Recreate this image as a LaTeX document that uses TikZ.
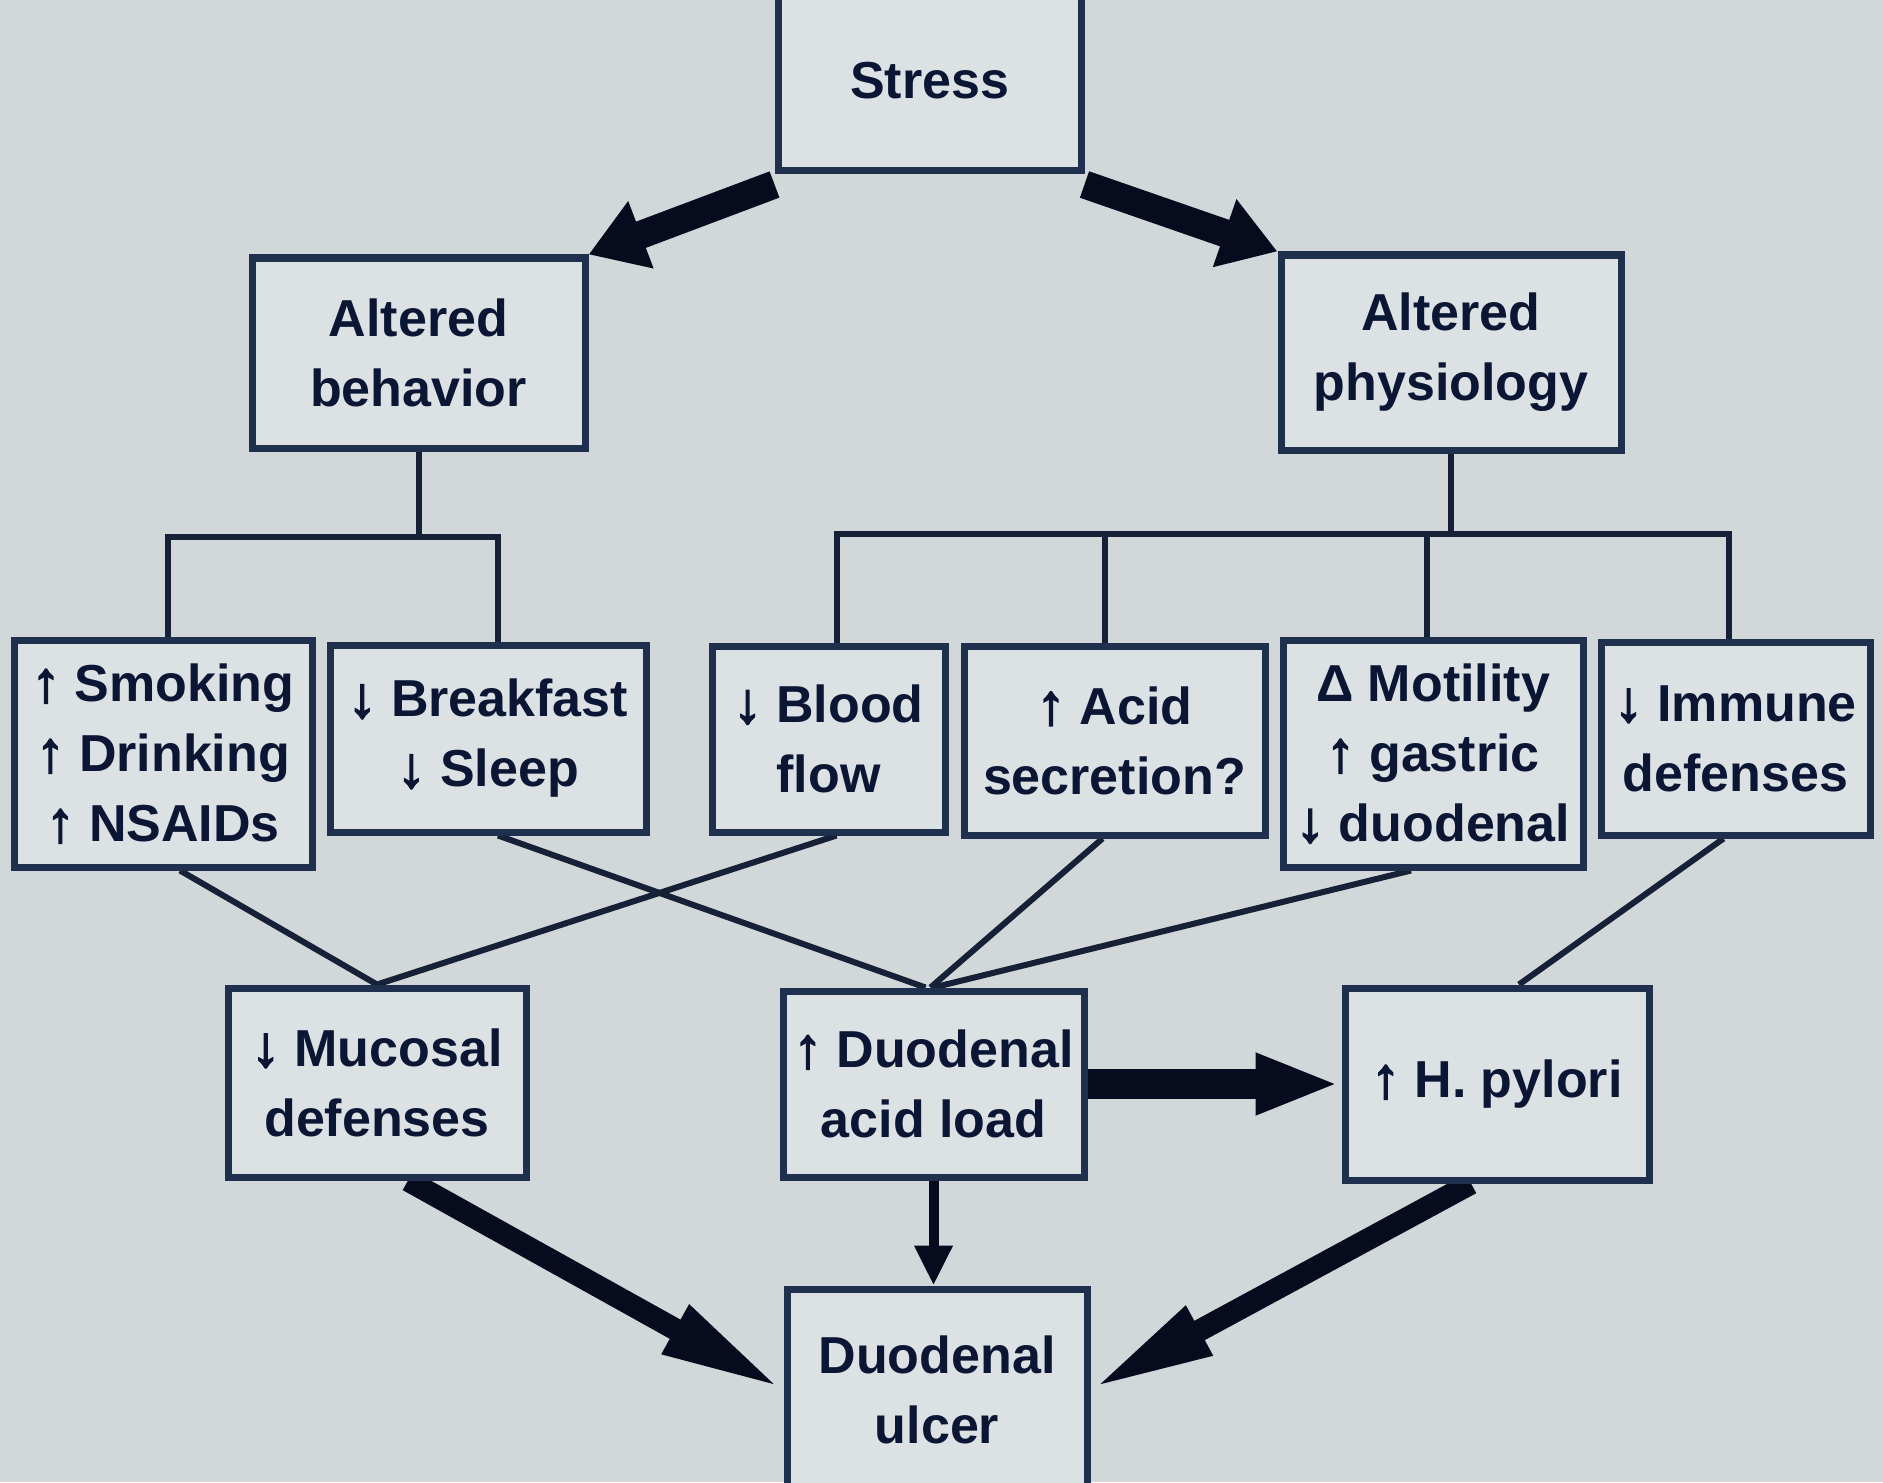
\documentclass[tikz,border=0pt]{standalone}
\usepackage{fontspec}
\setmainfont{Liberation Sans}
\newfontfamily\arrfont{Liberation Sans}[FakeBold=3,Scale=1.1]
\newcommand{\upar}{{\arrfont ↑}}
\newcommand{\dnar}{{\arrfont ↓}}
\usetikzlibrary{arrows.meta,calc}
\pgfdeclarelayer{back}
\pgfdeclarelayer{lines}
\pgfsetlayers{back,lines,main}
\definecolor{bg}{RGB}{210,215,218}
\definecolor{boxfill}{RGB}{220,225,228}
\definecolor{boxline}{RGB}{30,48,78}
\definecolor{ink}{RGB}{10,22,52}
\definecolor{arrowc}{RGB}{6,11,30}
\definecolor{connc}{RGB}{22,32,55}
\tikzset{
  box/.style={draw=boxline, fill=boxfill, line width=3.5pt, rectangle, inner sep=0pt,
    align=center, text=ink, font=\fontsize{26}{35}\selectfont\bfseries},
  conn/.style={draw=connc, line width=3pt},
  bigarrow/.style={draw=arrowc, line width=14pt, -{Triangle[length=28pt,width=34pt]}},
  ulcarrow/.style={draw=arrowc, line width=11pt, -{Triangle[length=62pt,width=25pt]}},
  hparrow/.style={draw=arrowc, line width=15pt, -{Triangle[length=42pt,width=28pt]}},
  downarrow/.style={draw=arrowc, line width=5pt, -{Triangle[length=20pt,width=18pt]}},
}
\begin{document}
\begin{tikzpicture}[x=0.5pt,y=-0.5pt]
\begin{pgfonlayer}{back}
\fill[bg] (0,0) rectangle (1883,1482);
\end{pgfonlayer}
\useasboundingbox (0,0) rectangle (1883,1482);

% nodes
\node[box, minimum width=151.5pt, minimum height=90.5pt] (stress) at (929.5,80.5) {Stress};
\node[box, minimum width=166.5pt, minimum height=95pt] (behav) at (418.5,353) {Altered\\behavior};
\node[box, minimum width=170pt, minimum height=97.5pt] (phys) at (1451,352.5) {Altered\\physiology};
\node[box, minimum width=149pt, minimum height=113.5pt] (smok) at (163,753.5) {\upar{} Smoking\\\upar{} Drinking\\\upar{} NSAIDs};
\node[box, minimum width=158pt, minimum height=93.5pt] (brk) at (488,738.5) {\dnar{} Breakfast\\\dnar{} Sleep};
\node[box, minimum width=116.5pt, minimum height=93pt] (blood) at (828.5,739) {\dnar{} Blood\\flow};
\node[box, minimum width=150.5pt, minimum height=94.5pt] (acid) at (1114.5,740.5) {\upar{} Acid\\secretion?};
\node[box, minimum width=150pt, minimum height=113.5pt] (mot) at (1433,753.5) {Δ Motility\\\upar{} gastric\\\dnar{} duodenal};
\node[box, minimum width=134.5pt, minimum height=96.5pt] (imm) at (1735.5,738.5) {\dnar{} Immune\\defenses};
\node[box, minimum width=149pt, minimum height=94.5pt] (muc) at (377,1082.5) {\dnar{} Mucosal\\defenses};
\node[box, minimum width=150.5pt, minimum height=93pt] (load) at (933.5,1084) {\upar{} Duodenal\\acid load};
\node[box, minimum width=152pt, minimum height=96pt] (hp) at (1497,1084) {\upar{} H. pylori};
\node[box, minimum width=150pt, minimum height=100.5pt] (ulc) at (937,1389.5) {Duodenal\\ulcer};

\begin{pgfonlayer}{lines}
% behaviour tree
\coordinate (bL) at (168,537);
\coordinate (bR) at (498,537);
\draw[conn] (behav.south) -- (behav.south |- bL);
\draw[conn] (smok.north -| bL) -- (bL) -- (bR) -- (brk.north -| bR);
% physiology tree
\coordinate (p1) at (837,534);
\coordinate (p2) at (1105,534);
\coordinate (p3) at (1427,534);
\coordinate (p4) at (1729,534);
\draw[conn] (phys.south) -- (phys.south |- p1);
\draw[conn] (blood.north -| p1) -- (p1) -- (p4) -- (imm.north -| p4);
\draw[conn] (acid.north -| p2) -- (p2);
\draw[conn] (mot.north -| p3) -- (p3);
% cross connectors
\draw[conn] ([xshift=8.5pt]smok.south) -- (muc.north);
\draw[conn] ([xshift=4pt]blood.south) -- (muc.north);
\draw[conn] ([xshift=5pt]brk.south) -- ([xshift=-4pt]load.north);
\draw[conn] ([xshift=-6pt]acid.south) -- ([xshift=-1.5pt]load.north);
\draw[conn] ([xshift=-11pt]mot.south) -- (load.north);
\draw[conn] ([xshift=-6pt]imm.south) -- ([xshift=11pt]hp.north);
% thick arrows
\draw[bigarrow] ([yshift=-5pt]stress.south west) -- (behav.north east);
\draw[bigarrow] ([yshift=-5pt]stress.south east) -- (phys.north west);
\draw[ulcarrow] ([xshift=15.5pt]muc.south) -- (ulc.west);
\draw[ulcarrow] ([xshift=-13pt]hp.south) -- (ulc.east);
\draw[hparrow] (load.east) -- ([xshift=-1pt]hp.west);
\draw[downarrow] (load.south) -- (load.south |- ulc.north);
\end{pgfonlayer}
\end{tikzpicture}
\end{document}
